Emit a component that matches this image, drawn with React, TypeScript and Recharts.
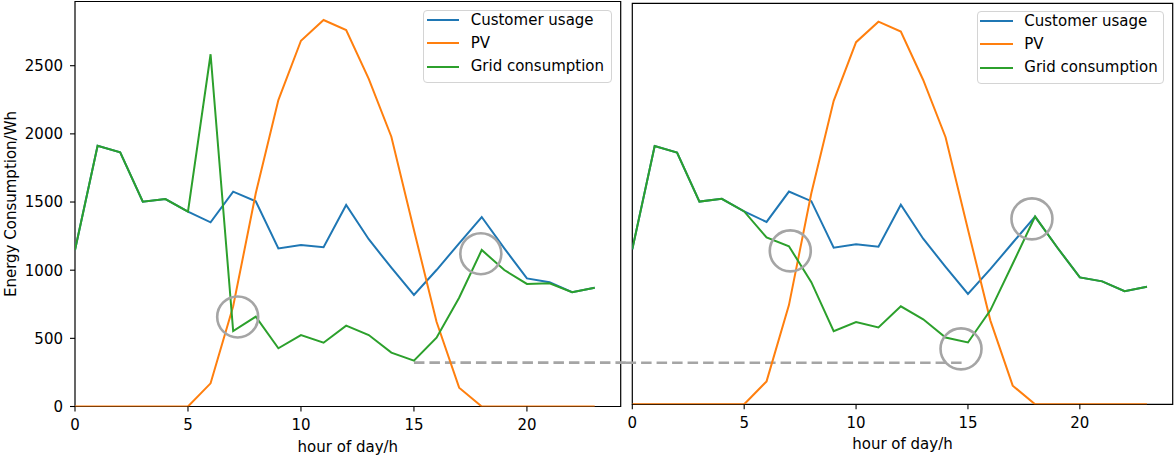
import React from 'react';
import {
  LineChart,
  Line,
  XAxis,
  YAxis,
  Legend,
  ReferenceArea,
  ReferenceDot,
  ReferenceLine,
} from 'recharts';

// ---------- data ----------
const hours = [0, 1, 2, 3, 4, 5, 6, 7, 8, 9, 10, 11, 12, 13, 14, 15, 16, 17, 18, 19, 20, 21, 22, 23];

const customerUsage = [
  1148, 1913, 1865, 1502, 1522, 1429, 1351, 1576, 1505, 1160, 1185, 1168,
  1478, 1227, 1018, 818, 1001, 1197, 1390, 1160, 940, 911, 838, 871,
];

const pvGeneration = [
  0, 0, 0, 0, 0, 0, 170, 735, 1564, 2248, 2683, 2835,
  2762, 2403, 1979, 1295, 622, 138, 0, 0, 0, 0, 0, 0,
];

const gridLeft = [
  1148, 1913, 1865, 1502, 1522, 1429, 2584, 554, 659, 427, 524, 468,
  593, 524, 395, 336, 505, 798, 1148, 1001, 899, 904, 838, 871,
];

const gridRight = [
  1148, 1913, 1865, 1502, 1522, 1429, 1236, 1171, 905, 541, 610, 569,
  726, 630, 495, 458, 696, 1041, 1391, 1160, 940, 911, 838, 871,
];

const seriesNames = ['Customer usage', 'PV', 'Grid consumption'];
const xTicks = [0, 5, 10, 15, 20];
const yTicks = [0, 500, 1000, 1500, 2000, 2500];
const xDomain = [0, 24.15];
const yDomain = [0, 2971];

// annotation circles: [hour, value]
const circlesLeft = [
  [7.2, 657],
  [17.96, 1121],
];
const circlesRight = [
  [7.06, 1137],
  [17.86, 1374],
  [14.69, 411],
];
// dashed connector: [startHour, endHour, value]
const dashLeft = [15, 24.4, 322];
const dashRight = [-0.3, 14.87, 308];

// ---------- styling ----------
const FONT = '"DejaVu Sans", Verdana, sans-serif';
const BLUE = '#1f77b4';
const ORANGE = '#ff7f0e';
const GREEN = '#2ca02c';
const GRAY = '#a5a5a5';
const seriesColors = [BLUE, ORANGE, GREEN];

const leftData = hours.map((h, i) => ({
  hour: h,
  usage: customerUsage[i],
  pv: pvGeneration[i],
  grid: gridLeft[i],
}));
const rightData = hours.map((h, i) => ({
  hour: h,
  usage: customerUsage[i],
  pv: pvGeneration[i],
  grid: gridRight[i],
}));

function LegendBox(props: any) {
  const { textLeft, lineLeft } = props;
  return (
    <div
      style={{
        position: 'relative',
        width: '100%',
        height: '100%',
        boxSizing: 'border-box',
        border: '1px solid #d4d4d4',
        borderRadius: 4,
        background: 'rgba(255,255,255,0.8)',
        fontFamily: FONT,
        fontSize: 15,
        color: '#000',
      }}
    >
      {seriesNames.map((name, i) => (
        <div
          key={name}
          style={{
            position: 'absolute',
            left: 0,
            top: 10.6 + i * 23.2 - 11.5 - 1,
            height: 23,
            width: '100%',
          }}
        >
          <div
            style={{
              position: 'absolute',
              left: lineLeft - 1,
              top: 10.5,
              width: 32.6,
              height: 2,
              background: seriesColors[i],
            }}
          />
          <div
            style={{
              position: 'absolute',
              left: textLeft - 1,
              top: 0,
              height: 23,
              lineHeight: '23px',
              whiteSpace: 'nowrap',
            }}
          >
            {name}
          </div>
        </div>
      ))}
    </div>
  );
}

const tickStyle = { fill: '#000', fontSize: 15, fontFamily: FONT };

function Panel(props: any) {
  const {
    data,
    width,
    margin,
    yAxisWidth,
    xAxisHeight,
    showYLabels,
    legendPos,
    circles,
    dash,
  } = props;
  return (
    <LineChart width={width} height={456} data={data} margin={margin}>
      <ReferenceArea
        x1={xDomain[0]}
        x2={xDomain[1]}
        y1={yDomain[0]}
        y2={yDomain[1]}
        fill="none"
        stroke="#000"
        strokeWidth={1.2}
        ifOverflow="visible"
      />
      <XAxis
        type="number"
        dataKey="hour"
        domain={xDomain}
        ticks={xTicks}
        allowDataOverflow
        height={xAxisHeight}
        axisLine={false}
        tickLine={{ stroke: '#000', strokeWidth: 1.1 }}
        tickSize={5}
        tickMargin={8}
        tick={tickStyle}
        interval={0}
        label={{
          position: 'insideBottom',
          content: (p: any) => {
            const vb = p.viewBox || { x: 0, y: 0, width: 0, height: 0 };
            return (
              <text
                x={vb.x + vb.width / 2}
                y={vb.y + 45}
                textAnchor="middle"
                fontSize={15}
                fontFamily={FONT}
                fill="#000"
              >
                hour of day/h
              </text>
            );
          },
        }}
      />
      <YAxis
        type="number"
        domain={yDomain}
        ticks={yTicks}
        allowDataOverflow
        width={yAxisWidth}
        axisLine={false}
        tickLine={{ stroke: '#000', strokeWidth: 1.1 }}
        tickSize={5}
        tickMargin={7}
        tick={showYLabels ? tickStyle : false}
        interval={0}
        label={
          showYLabels
            ? {
                position: 'center',
                content: (p: any) => {
                  const vb = p.viewBox || { x: 0, y: 0, width: 0, height: 0 };
                  const cx = vb.x + 16;
                  const cy = vb.y + vb.height / 2;
                  return (
                    <text
                      x={cx}
                      y={cy}
                      transform={`rotate(-90, ${cx}, ${cy})`}
                      textAnchor="middle"
                      fontSize={15}
                      fontFamily={FONT}
                      fill="#000"
                    >
                      Energy Consumption/Wh
                    </text>
                  );
                },
              }
            : undefined
        }
      />
      <ReferenceLine
        segment={[
          { x: dash[0], y: dash[2] },
          { x: dash[1], y: dash[2] },
        ]}
        stroke={GRAY}
        strokeWidth={2.7}
        strokeDasharray="10.5 5"
        ifOverflow="visible"
      />
      <Line
        type="linear"
        dataKey="usage"
        name={seriesNames[0]}
        stroke={BLUE}
        strokeWidth={2}
        dot={false}
        isAnimationActive={false}
      />
      <Line
        type="linear"
        dataKey="pv"
        name={seriesNames[1]}
        stroke={ORANGE}
        strokeWidth={2}
        dot={false}
        isAnimationActive={false}
      />
      <Line
        type="linear"
        dataKey="grid"
        name={seriesNames[2]}
        stroke={GREEN}
        strokeWidth={2}
        dot={false}
        isAnimationActive={false}
      />
      {circles.map((c: number[], i: number) => (
        <ReferenceDot
          key={i}
          x={c[0]}
          y={c[1]}
          r={20.5}
          fill="none"
          stroke={GRAY}
          strokeWidth={2.6}
          ifOverflow="visible"
        />
      ))}
      <Legend
        layout="horizontal"
        align="center"
        verticalAlign="middle"
        wrapperStyle={{
          position: 'absolute',
          left: legendPos.left,
          top: legendPos.top,
          width: legendPos.width,
          height: legendPos.height,
          margin: 0,
          padding: 0,
        }}
        content={() => <LegendBox textLeft={legendPos.textLeft} lineLeft={legendPos.lineLeft} />}
      />
    </LineChart>
  );
}

export default function App() {
  return (
    <div
      style={{
        position: 'absolute',
        left: 0,
        top: 0,
        width: 1174,
        height: 456,
        background: '#fff',
        fontFamily: FONT,
      }}
    >
      <div style={{ position: 'absolute', left: 0, top: 0 }}>
        <Panel
          data={leftData}
          width={626}
          margin={{ top: 1.5, right: 5.3, bottom: 0, left: 0 }}
          yAxisWidth={75}
          xAxisHeight={49.5}
          showYLabels={true}
          legendPos={{ left: 422.7, top: 9.7, width: 189.6, height: 73.6, lineLeft: 4, textLeft: 48 }}
          circles={circlesLeft}
          dash={dashLeft}
        />
      </div>
      <div style={{ position: 'absolute', left: 626, top: 0 }}>
        <Panel
          data={rightData}
          width={548}
          margin={{ top: 3.3, right: 1.3, bottom: 0, left: 0 }}
          yAxisWidth={6.3}
          xAxisHeight={51.7}
          showYLabels={false}
          legendPos={{ left: 350.7, top: 10.7, width: 187.6, height: 73, lineLeft: 3.3, textLeft: 47.6 }}
          circles={circlesRight}
          dash={dashRight}
        />
      </div>
    </div>
  );
}
